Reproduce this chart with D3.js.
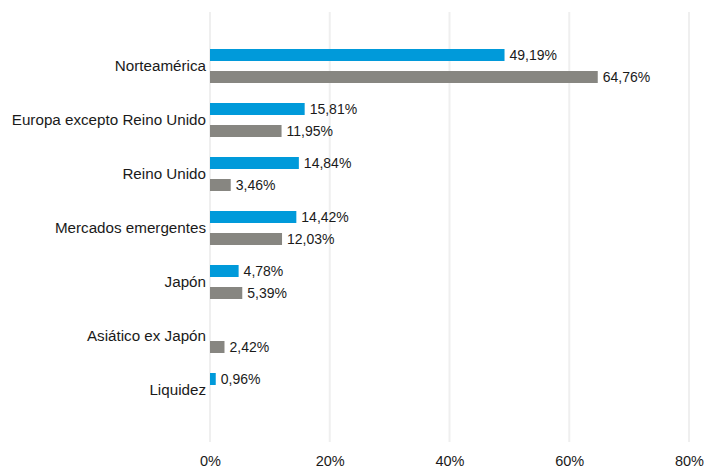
<!DOCTYPE html>
<html>
<head>
<meta charset="utf-8">
<script src="https://cdn.jsdelivr.net/npm/d3@7"></script>
<style>
  body { margin: 0; background: #fff; }
  text { font-family: "Liberation Sans", Arial, sans-serif; fill: #1a1a1a; }
</style>
</head>
<body>
<svg id="chart" width="704" height="469"></svg>
<script>
const categories = ["Norteamérica", "Europa excepto Reino Unido", "Reino Unido", "Mercados emergentes", "Japón", "Asiático ex Japón", "Liquidez"];
const seriesNames = ["fondo", "indice"];
const fondo = [49.19, 15.81, 14.84, 14.42, 4.78, 0, 0.96];
const indice = [64.76, 11.95, 3.46, 12.03, 5.39, 2.42, 0];
const xTicks = [0, 20, 40, 60, 80];
const colors = { fondo: "#009ADA", indice: "#878681" };

const svg = d3.select("#chart");

const x = d3.scaleLinear().domain([0, 80]).range([210, 689]);
const y0 = d3.scaleBand().domain(categories).range([39, 417]);
const y1 = d3.scaleBand().domain(seriesNames).range([10, 44]).paddingInner(0.455);

// gridlines
svg.append("g")
    .selectAll("line")
    .data(xTicks)
    .enter()
    .append("line")
    .attr("x1", d => x(d))
    .attr("x2", d => x(d))
    .attr("y1", 12)
    .attr("y2", 442)
    .attr("stroke", "#efefef")
    .attr("stroke-width", 2);

// x axis labels
svg.append("g")
    .attr("transform", "translate(0,442)")
    .call(d3.axisBottom(x).tickValues(xTicks).tickSize(0).tickPadding(14).tickFormat(d => `${d}%`))
    .call(g => g.select(".domain").remove())
    .selectAll("text")
    .attr("font-size", 14.5)
    .attr("font-family", "Liberation Sans, Arial, sans-serif")
    .attr("fill", "#1a1a1a");

// category labels
svg.append("g")
    .selectAll("text")
    .data(categories)
    .enter()
    .append("text")
    .attr("x", 206)
    .attr("y", d => y0(d) + y0.bandwidth() / 2)
    .attr("dy", "0.35em")
    .attr("text-anchor", "end")
    .attr("font-size", 15.2)
    .text(d => d);

const rows = categories.map((c, i) => ({ cat: c, values: [
    { key: "fondo", v: fondo[i] },
    { key: "indice", v: indice[i] }
] }));

const grp = svg.append("g")
    .selectAll("g")
    .data(rows)
    .enter()
    .append("g")
    .attr("transform", d => `translate(0,${y0(d.cat)})`);

const items = grp.selectAll("g")
    .data(d => d.values.filter(e => e.v > 0))
    .enter()
    .append("g");

items.append("rect")
    .attr("x", x(0))
    .attr("y", d => y1(d.key))
    .attr("width", d => x(d.v) - x(0))
    .attr("height", y1.bandwidth())
    .attr("fill", d => colors[d.key]);

items.append("text")
    .attr("x", d => x(d.v) + 5)
    .attr("y", d => y1(d.key) + y1.bandwidth() / 2)
    .attr("dy", "0.33em")
    .attr("font-size", 14)
    .text(d => d.v.toFixed(2).replace(".", ",") + "%");
</script>
</body>
</html>
